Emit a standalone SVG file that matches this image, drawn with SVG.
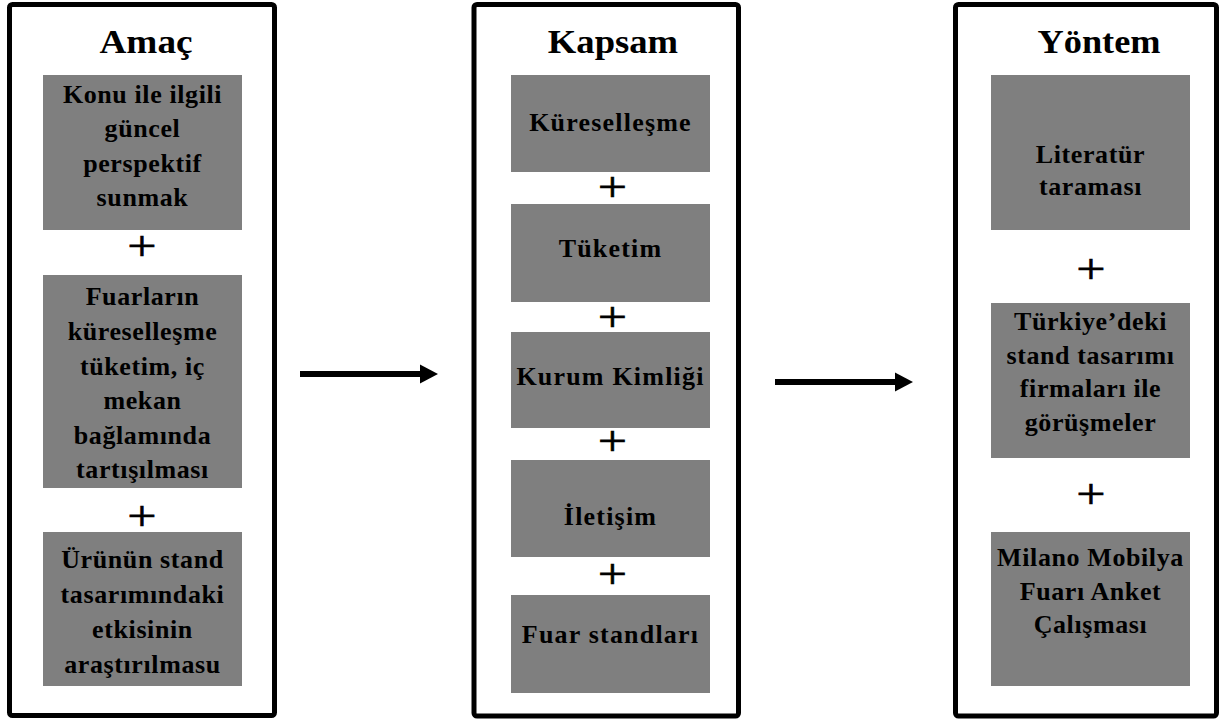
<svg xmlns="http://www.w3.org/2000/svg" width="1223" height="722" viewBox="0 0 1223 722">
  <defs>
    <style>
      .frame { fill: #ffffff; stroke: #000000; stroke-width: 5; }
      .box { fill: #7f7f7f; }
      .title { font-family: "Liberation Serif", "Times New Roman", serif; font-weight: bold; font-size: 33px; fill: #000000; text-anchor: middle; }
      .label { font-family: "Liberation Serif", "Times New Roman", serif; font-weight: bold; font-size: 26px; letter-spacing: 0.6px; fill: #000000; text-anchor: middle; }
      .wide { letter-spacing: 1.2px; }
      .plus { font-family: "Liberation Serif", "Times New Roman", serif; font-size: 52px; fill: #000000; stroke: #000000; stroke-width: 0.7; text-anchor: middle; }
      .link { stroke: #000000; stroke-width: 6; fill: none; }
      .head { fill: #000000; }
    </style>
  </defs>
  <rect width="1223" height="722" fill="#ffffff"/>

  <!-- Column 1: Amaç -->
  <g id="amac">
    <rect class="frame" x="9.5" y="4.5" width="265" height="711" rx="3"/>
    <text class="title" transform="translate(146,53) scale(1.13,1)">Amaç</text>
    <g id="amac-1">
      <rect class="box" x="43" y="75" width="199" height="155"/>
      <text class="label" x="142.5" y="103">Konu ile ilgili</text>
      <text class="label" x="142.5" y="137">güncel</text>
      <text class="label" x="142.5" y="172">perspektif</text>
      <text class="label" x="142.5" y="206">sunmak</text>
    </g>
    <text class="plus" transform="translate(142,259.5) scale(1,0.8)">+</text>
    <g id="amac-2">
      <rect class="box" x="43" y="275" width="199" height="213"/>
      <text class="label" x="142.5" y="305">Fuarların</text>
      <text class="label" x="142.5" y="340">küreselleşme</text>
      <text class="label" x="142.5" y="375">tüketim, iç</text>
      <text class="label" x="142.5" y="409">mekan</text>
      <text class="label" x="142.5" y="444">bağlamında</text>
      <text class="label" x="142.5" y="478">tartışılması</text>
    </g>
    <text class="plus" transform="translate(142,529.5) scale(1,0.8)">+</text>
    <g id="amac-3">
      <rect class="box" x="43" y="532" width="199" height="154"/>
      <text class="label" x="142.5" y="568">Ürünün stand</text>
      <text class="label" x="142.5" y="603">tasarımındaki</text>
      <text class="label" x="142.5" y="638">etkisinin</text>
      <text class="label" x="142.5" y="673">araştırılmasu</text>
    </g>
  </g>

  <!-- Column 2: Kapsam -->
  <g id="kapsam">
    <rect class="frame" x="474" y="4.5" width="264.5" height="711.5" rx="3"/>
    <text class="title" transform="translate(613,53) scale(1.11,1)">Kapsam</text>
    <g id="kapsam-1">
      <rect class="box" x="511" y="75" width="199" height="97"/>
      <text class="label wide" x="610.5" y="131">Küreselleşme</text>
    </g>
    <text class="plus" transform="translate(612.5,200.5) scale(1,0.8)">+</text>
    <g id="kapsam-2">
      <rect class="box" x="511" y="204" width="199" height="98"/>
      <text class="label wide" x="610.5" y="257">Tüketim</text>
    </g>
    <text class="plus" transform="translate(612.5,331) scale(1,0.8)">+</text>
    <g id="kapsam-3">
      <rect class="box" x="511" y="332" width="199" height="96"/>
      <text class="label wide" x="610.5" y="385">Kurum Kimliği</text>
    </g>
    <text class="plus" transform="translate(612.5,455) scale(1,0.8)">+</text>
    <g id="kapsam-4">
      <rect class="box" x="511" y="460" width="199" height="97"/>
      <text class="label wide" x="610.5" y="525">İletişim</text>
    </g>
    <text class="plus" transform="translate(612.5,587.5) scale(1,0.8)">+</text>
    <g id="kapsam-5">
      <rect class="box" x="511" y="595" width="199" height="98"/>
      <text class="label wide" x="610.5" y="643">Fuar standları</text>
    </g>
  </g>

  <!-- Column 3: Yöntem -->
  <g id="yontem">
    <rect class="frame" x="955.5" y="4.5" width="261" height="711.5" rx="3"/>
    <text class="title" transform="translate(1099,53) scale(1.1,1)">Yöntem</text>
    <g id="yontem-1">
      <rect class="box" x="991" y="75" width="199" height="155"/>
      <text class="label" x="1090.5" y="163">Literatür</text>
      <text class="label" x="1090.5" y="195">taraması</text>
    </g>
    <text class="plus" transform="translate(1091,282.5) scale(1,0.8)">+</text>
    <g id="yontem-2">
      <rect class="box" x="991" y="303" width="199" height="155"/>
      <text class="label" x="1090.5" y="330">Türkiye’deki</text>
      <text class="label" x="1090.5" y="364">stand tasarımı</text>
      <text class="label" x="1090.5" y="397">firmaları ile</text>
      <text class="label" x="1090.5" y="431">görüşmeler</text>
    </g>
    <text class="plus" transform="translate(1091,507.5) scale(1,0.8)">+</text>
    <g id="yontem-3">
      <rect class="box" x="991" y="532" width="199" height="154"/>
      <text class="label" x="1090.5" y="566">Milano Mobilya</text>
      <text class="label" x="1090.5" y="600">Fuarı Anket</text>
      <text class="label" x="1090.5" y="633">Çalışması</text>
    </g>
  </g>

  <!-- Connectors between columns -->
  <g id="connectors">
    <line class="link" x1="300" y1="374" x2="422" y2="374"/>
    <polygon class="head" points="420,364.5 438,374 420,383.5"/>
    <line class="link" x1="775" y1="382" x2="897" y2="382"/>
    <polygon class="head" points="895,372.5 913,382 895,391.5"/>
  </g>
</svg>
